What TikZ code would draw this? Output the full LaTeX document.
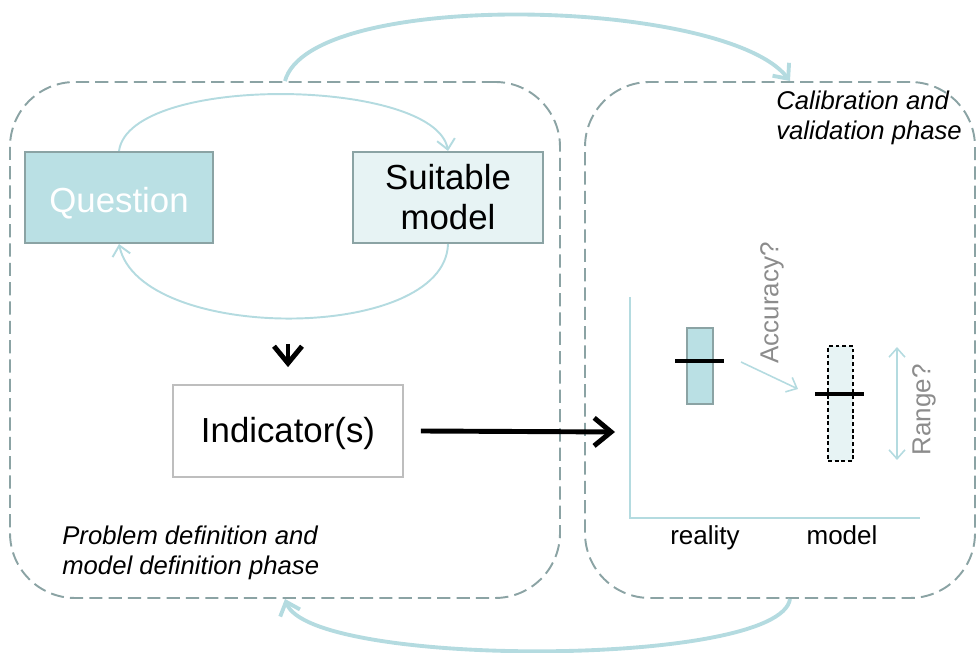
\documentclass[tikz,border=0pt]{standalone}
\usepackage{fontspec}
\setmainfont{Liberation Sans}
\usetikzlibrary{arrows.meta}
\definecolor{arccol}{RGB}{180,219,224}
\definecolor{phasecol}{RGB}{139,163,164}
\definecolor{qfill}{RGB}{186,224,228}
\definecolor{mfill}{RGB}{231,243,244}
\definecolor{indgray}{RGB}{190,190,190}
\definecolor{labelgray}{RGB}{140,140,140}

\tikzset{
  phase/.style={draw=phasecol, line width=1.1pt, rounded corners=1.3cm,
    dash pattern=on 7.5pt off 3.5pt},
  boxtext/.style={font=\fontsize{19.8}{22.7}\selectfont, inner sep=0pt},
  qbox/.style={boxtext, draw=phasecol, line width=1.2pt, fill=qfill, text=white},
  mbox/.style={boxtext, draw=phasecol, line width=1.2pt, fill=mfill, align=center},
  indbox/.style={boxtext, draw=indgray, line width=1pt, fill=white},
  phasetext/.style={font=\fontsize{14.6}{17}\selectfont\itshape, inner sep=0pt, align=left},
  bigarc/.style={draw=arccol, line width=2.2pt, -{Straight Barb[length=2.4mm,width=4.2mm]}},
  smallarc/.style={draw=arccol, line width=1.1pt, -{Straight Barb[length=2mm,width=3.6mm]}},
  thickarrow/.style={line width=2.8pt, -{Straight Barb[length=3.4mm,width=5.6mm]}},
  plotaxis/.style={draw=arccol, line width=1.1pt},
  bar/.style={line width=1pt, inner sep=0pt},
  mean/.style={line width=2.2pt},
  plottext/.style={font=\fontsize{14.8}{17}\selectfont, inner sep=0pt, anchor=base},
  graytext/.style={font=\fontsize{14.8}{17}\selectfont, text=labelgray, inner sep=0pt, rotate=90}
}

\begin{document}
\begin{tikzpicture}
  \useasboundingbox (0,0) rectangle (19.52,13.06);

  % Phases
  \node[phase, minimum width=11cm, minimum height=10.32cm] (defphase) at (5.7,6.26) {};
  \node[phase, minimum width=7.8cm, minimum height=10.32cm] (calphase) at (15.6,6.26) {};
  \node[phasetext, anchor=west] (caltext) at (15.52,10.7) {Calibration and\\validation phase};
  \node[phasetext, anchor=west] (deftext) at (1.24,2.01) {Problem definition and\\model definition phase};

  \draw[bigarc] (defphase.north) .. controls (6.2,13.3) and (14.5,13.1) .. ([xshift=2mm]calphase.north);
  \draw[bigarc] ([xshift=2mm]calphase.south) .. controls (15.6,-0.3) and (6.2,-0.3) .. (defphase.south);

  % Boxes
  \node[qbox, text height=0.74cm, minimum width=3.76cm, minimum height=1.82cm] (question) at (2.38,9.11) {Question};
  \node[mbox, minimum width=3.8cm, minimum height=1.82cm] (suitable) at (8.96,9.11) {Suitable\\model};
  \node[indbox, text height=0.62cm, minimum width=4.6cm, minimum height=1.84cm] (ind) at (5.76,4.44) {Indicator(s)};

  \draw[smallarc] (question.north) .. controls (2.6,11.6) and (8.7,11.5) .. (suitable.north);
  \draw[smallarc] (suitable.south) .. controls (8.9,6.2) and (2.8,6.2) .. (question.south);

  \coordinate (down) at (5.76,6.18);
  \draw[thickarrow] (down) -- ([yshift=0.34cm]ind.north);
  \coordinate (arrowend) at (12.3,4.42);
  \draw[thickarrow] ([xshift=0.34cm]ind.east) -- (arrowend);

  % Plot
  \coordinate (origin) at (12.6,2.7);
  \draw[plotaxis] (12.6,7.12) -- (origin) -- (18.4,2.7);

  \node[bar, draw=phasecol, fill=qfill, minimum width=0.52cm, minimum height=1.52cm] (realbar) at (14.0,5.74) {};
  \draw[mean] (13.5,5.84) -- (14.48,5.84);
  \node[bar, draw=black, line width=0.7pt, dash pattern=on 2.2pt off 1.6pt, fill=mfill,
    minimum width=0.5cm, minimum height=2.3cm] (modelbar) at (16.81,4.99) {};
  \draw[mean] (16.3,5.18) -- (17.28,5.18);

  \node[plottext] (reality) at (14.1,2.17) {reality};
  \node[plottext] (model) at (16.84,2.17) {model};

  \coordinate (accfrom) at (14.82,5.82);
  \coordinate (accto) at (15.96,5.28);
  \draw[draw=arccol, line width=0.9pt, -{Straight Barb[length=1.8mm,width=3.2mm]}] (accfrom) -- (accto);
  \node[graytext] (acc) at (15.44,7.0) {Accuracy?};

  \coordinate (rangetop) at (17.94,6.12);
  \coordinate (rangebot) at (17.94,3.86);
  \draw[draw=arccol, line width=0.9pt, {Straight Barb[length=1.8mm,width=3.2mm]}-{Straight Barb[length=1.8mm,width=3.2mm]}] (rangetop) -- (rangebot);
  \node[graytext] (range) at (18.48,4.86) {Range?};
\end{tikzpicture}
\end{document}
